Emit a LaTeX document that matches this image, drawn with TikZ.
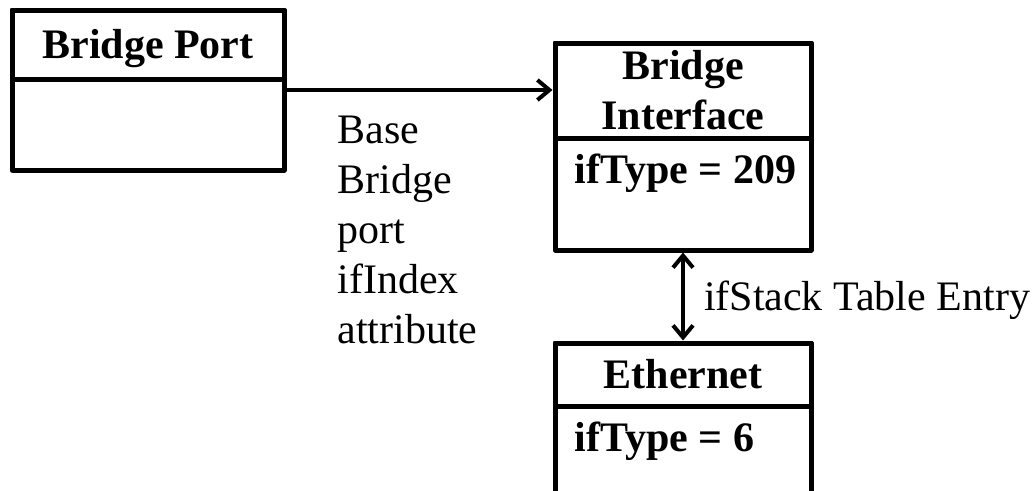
\documentclass[tikz,border=0pt]{standalone}
\usepackage{fontspec}
\setmainfont{Liberation Serif}
\usetikzlibrary{positioning,arrows.meta}

\begin{document}
\begin{tikzpicture}[x=1pt,y=-1pt,node distance=2cm,on grid,
    classbox/.style={draw,line width=5pt,line join=round,inner sep=0pt},
    title/.style={classbox,font=\fontsize{42}{50}\selectfont\bfseries,align=center,
      text height=28pt,text depth=0pt},
    attr/.style={font=\fontsize{42}{50}\selectfont\bfseries,inner sep=0pt,anchor=base west},
    lbl/.style={font=\fontsize{42}{50}\selectfont,inner sep=0pt,align=left},
    link/.style={line width=4pt,-{Straight Barb[length=12pt,width=20pt]}},
    stack/.style={line width=4pt,{Straight Barb[length=12pt,width=20pt]}-{Straight Barb[length=12pt,width=20pt]}}]
    \clip (0,0) rectangle (1036,490);
    \node[classbox,minimum width=272pt,minimum height=160pt](port) at (148,90) {};
    \node[title,minimum width=272pt,minimum height=69pt,anchor=north](port-t) at (port.north) {Bridge Port};
    \node[classbox,minimum width=256pt,minimum height=207pt](iface)[below right=56.5pt and 535pt of port] {};
    \node[title,minimum width=256pt,minimum height=95pt,anchor=north,text height=78pt](iface-t) at (iface.north) {Bridge\\Interface};
    \node[attr](iface-a) at ([shift={(22,43)}]iface-t.south west) {ifType = 209};
    \node[classbox,minimum width=256pt,minimum height=177pt](eth)[below=285pt of iface] {};
    \node[title,minimum width=256pt,minimum height=63pt,anchor=north](eth-t) at (eth.north) {Ethernet};
    \node[attr](eth-a) at ([shift={(22,43)}]eth-t.south west) {ifType = 6};
    % base port -> interface, and the stacking between the two interfaces
    \draw[link] (port.east) -- (port.east -| iface.west)
      node[lbl,pos=0,anchor=north west,xshift=49pt,yshift=-24pt] {Base\\Bridge\\port\\ifIndex\\attribute};
    \draw[stack] (iface.south) -- (eth.north)
      node[lbl,midway,anchor=west,xshift=19pt,yshift=-4pt] {ifStack Table Entry};
\end{tikzpicture}
\end{document}
